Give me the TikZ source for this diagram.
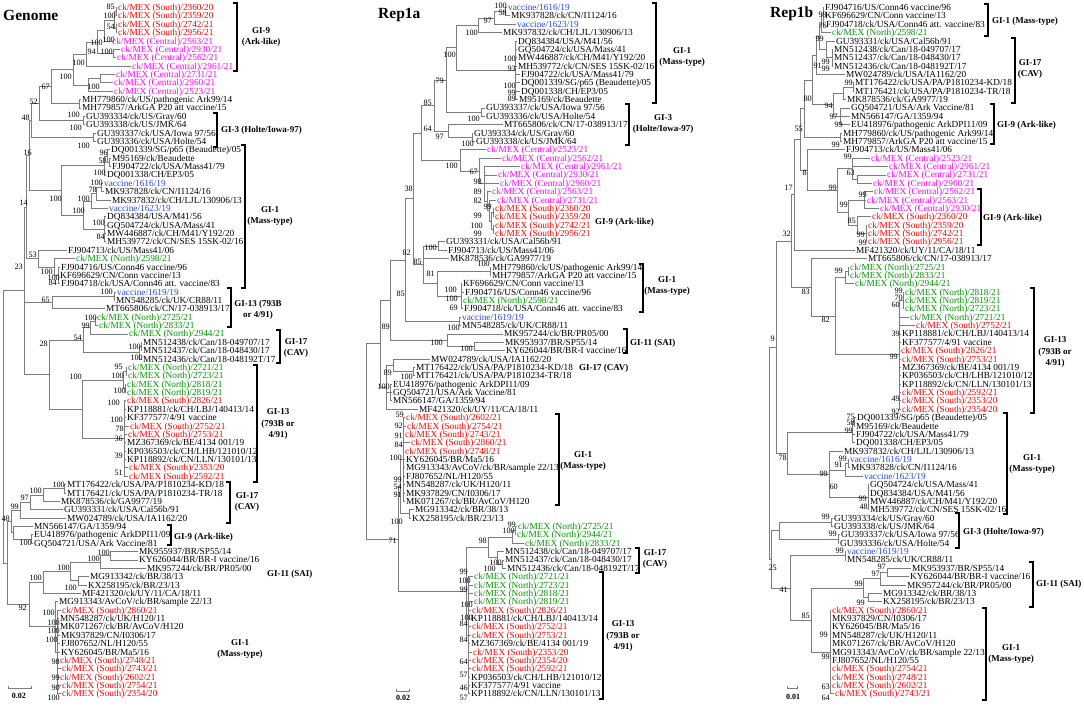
\documentclass[tikz,border=0pt]{standalone}
\usepackage{fontspec}
\setmainfont{Liberation Serif}
\usetikzlibrary{calc}
\definecolor{south}{RGB}{255,0,0}
\definecolor{central}{RGB}{255,0,255}
\definecolor{north}{RGB}{0,150,0}
\definecolor{vacc}{RGB}{40,70,235}
\definecolor{branchgray}{RGB}{125,125,125}
\newcounter{leafno}
\newcommand\leaffont{\fontsize{9.3}{9.3}\selectfont}
\newcommand\bootfont{\fontsize{8.2}{8.2}\selectfont}
\newcommand\leafat[4]{\stepcounter{leafno}%
  \node[leaf,text=#3] (#1) at (#2,{8.37*\arabic{leafno}-0.87}) {#4};}
\newcommand\clade[5]{\path let \p1=($(#3)!.5!(#4)$) in coordinate (#1) at (#2pt,\y1);%
  \foreach \ch in {#5} {\draw[branch] (#1) |- (\ch);}}
\newcommand\gbar[3]{\draw[brace] (#1-4,#2) -- (#1,#2) -- (#1,#3) -- (#1-4,#3);}
\tikzset{
  leaf/.style={anchor=west,inner xsep=1pt,inner ysep=0pt,text height=6.1pt,text depth=0pt,font=\leaffont},
  boot/.style={anchor=east,inner sep=0pt,text height=5.6pt,text depth=0pt,font=\bootfont},
  branch/.style={draw=branchgray,line width=0.8pt},
  brace/.style={line width=1.2pt},
  clab/.style={inner sep=0pt,align=center,font=\bfseries\fontsize{9}{11.5}\selectfont},
  ttl/.style={anchor=west,inner sep=0pt,font=\bfseries\fontsize{15.5}{16}\selectfont},
  scalebar/.style={line width=0.6pt,draw=branchgray},
  scalelab/.style={inner sep=0pt,font=\bfseries\fontsize{8}{8}\selectfont}
}
\begin{document}
\begin{tikzpicture}[x=1pt,y=-1pt]
\fill[white] (0,0) rectangle (1084,706);
\useasboundingbox (0,0) rectangle (1084,706);

% Genome
\node[ttl] (gtitle) at (3,15) {Genome};
\setcounter{leafno}{0}
\leafat{g1}{117}{south}{ck/MEX (South)/2360/20}
\leafat{g2}{117}{south}{ck/MEX (South)/2359/20}
\leafat{g3}{117}{south}{ck/MEX (South)/2742/21}
\leafat{g4}{117}{south}{ck/MEX (South)/2956/21}
\leafat{g5}{111}{central}{ck/MEX (Central)/2563/21}
\leafat{g6}{120}{central}{ck/MEX (Central)/2930/21}
\leafat{g7}{116}{central}{ck/MEX (Central)/2562/21}
\leafat{g8}{131}{central}{ck/MEX (Central)/2961/21}
\leafat{g9}{115}{central}{ck/MEX (Central)/2731/21}
\leafat{g10}{113}{central}{ck/MEX (Central)/2960/21}
\leafat{g11}{113}{central}{ck/MEX (Central)/2523/21}
\leafat{g12}{81}{black}{MH779860/ck/US/pathogenic Ark99/14}
\leafat{g13}{81}{black}{MH779857/ArkGA P20 att vaccine/15}
\leafat{g14}{85}{black}{GU393334/ck/US/Gray/60}
\leafat{g15}{85}{black}{GU393338/ck/US/JMK/64}
\leafat{g16}{96}{black}{GU393337/ck/USA/Iowa 97/56}
\leafat{g17}{96}{black}{GU393336/ck/USA/Holte/54}
\leafat{g18}{110}{black}{DQ001339/SG/p65 (Beaudette)/05}
\leafat{g19}{111}{black}{M95169/ck/Beaudette}
\leafat{g20}{111}{black}{FJ904722/ck/USA/Mass41/79}
\leafat{g21}{106}{black}{DQ001338/CH/EP3/05}
\leafat{g22}{103}{vacc}{vaccine/1616/19}
\leafat{g23}{104}{black}{MK937828/ck/CN/I1124/16}
\leafat{g24}{111}{black}{MK937832/ck/CH/LJL/130906/13}
\leafat{g25}{108}{vacc}{vaccine/1623/19}
\leafat{g26}{106}{black}{DQ834384/USA/M41/56}
\leafat{g27}{106}{black}{GQ504724/ck/USA/Mass/41}
\leafat{g28}{106}{black}{MW446887/ck/CH/M41/Y192/20}
\leafat{g29}{106}{black}{MH539772/ck/CN/SES 15SK-02/16}
\leafat{g30}{67}{black}{FJ904713/ck/US/Mass41/06}
\leafat{g31}{75}{north}{ck/MEX (North)/2598/21}
\leafat{g32}{60}{black}{FJ904716/US/Conn46 vaccine/96}
\leafat{g33}{59}{black}{KF696629/CN/Conn vaccine/13}
\leafat{g34}{60}{black}{FJ904718/ck/USA/Conn46 att. vaccine/83}
\leafat{g35}{116}{vacc}{vaccine/1619/19}
\leafat{g36}{115}{black}{MN548285/ck/UK/CR88/11}
\leafat{g37}{105}{black}{MT665806/ck/CN/17-038913/17}
\leafat{g38}{96}{north}{ck/MEX (North)/2725/21}
\leafat{g39}{98}{north}{ck/MEX (North)/2833/21}
\leafat{g40}{128}{north}{ck/MEX (North)/2944/21}
\leafat{g41}{142}{black}{MN512438/ck/Can/18-049707/17}
\leafat{g42}{142}{black}{MN512437/ck/Can/18-048430/17}
\leafat{g43}{142}{black}{MN512436/ck/Can/18-048192T/17}
\leafat{g44}{127}{north}{ck/MEX (North)/2721/21}
\leafat{g45}{127}{north}{ck/MEX (North)/2723/21}
\leafat{g46}{126}{north}{ck/MEX (North)/2818/21}
\leafat{g47}{126}{north}{ck/MEX (North)/2819/21}
\leafat{g48}{126}{south}{ck/MEX (South)/2826/21}
\leafat{g49}{126}{black}{KP118881/ck/CH/LBJ/140413/14}
\leafat{g50}{126}{black}{KF377577/4/91 vaccine}
\leafat{g51}{129}{south}{ck/MEX (South)/2752/21}
\leafat{g52}{127}{south}{ck/MEX (South)/2753/21}
\leafat{g53}{126}{black}{MZ367369/ck/BE/4134 001/19}
\leafat{g54}{126}{black}{KP036503/ck/CH/LHB/121010/12}
\leafat{g55}{126}{black}{KP118892/ck/CN/LLN/130101/13}
\leafat{g56}{128}{south}{ck/MEX (South)/2353/20}
\leafat{g57}{128}{south}{ck/MEX (South)/2592/21}
\leafat{g58}{66}{black}{MT176422/ck/USA/PA/P1810234-KD/18}
\leafat{g59}{66}{black}{MT176421/ck/USA/PA/P1810234-TR/18}
\leafat{g60}{60}{black}{MK878536/ck/GA9977/19}
\leafat{g61}{63}{black}{GU393331/ck/USA/Cal56b/91}
\leafat{g62}{66}{black}{MW024789/ck/USA/IA1162/20}
\leafat{g63}{33}{black}{MN566147/GA/1359/94}
\leafat{g64}{33}{black}{EU418976/pathogenic ArkDPI11/09}
\leafat{g65}{33}{black}{GQ504721/USA/Ark Vaccine/81}
\leafat{g66}{138}{black}{MK955937/BR/SP55/14}
\leafat{g67}{138}{black}{KY626044/BR/BR-I vaccine/16}
\leafat{g68}{146}{black}{MK957244/ck/BR/PR05/00}
\leafat{g69}{89}{black}{MG913342/ck/BR/38/13}
\leafat{g70}{87}{black}{KX258195/ck/BR/23/13}
\leafat{g71}{81}{black}{MF421320/ck/UY/11/CA/18/11}
\leafat{g72}{58}{black}{MG913343/AvCoV/ck/BR/sample 22/13}
\leafat{g73}{61}{south}{ck/MEX (South)/2860/21}
\leafat{g74}{59}{black}{MN548287/ck/UK/H120/11}
\leafat{g75}{59}{black}{MK071267/ck/BR/AvCoV/H120}
\leafat{g76}{60}{black}{MK937829/CN/I0306/17}
\leafat{g77}{60}{black}{FJ807652/NL/H120/55}
\leafat{g78}{60}{black}{KY626045/BR/Ma5/16}
\leafat{g79}{59}{south}{ck/MEX (South)/2748/21}
\leafat{g80}{61}{south}{ck/MEX (South)/2743/21}
\leafat{g81}{59}{south}{ck/MEX (South)/2602/21}
\leafat{g82}{61}{south}{ck/MEX (South)/2754/21}
\leafat{g83}{61}{south}{ck/MEX (South)/2354/20}
\clade{gn1}{116}{g1}{g2}{g1,g2}
\clade{gn2}{116}{g3}{g4}{g3,g4}
\clade{gn3}{114}{gn1}{gn2}{gn1,gn2}
\clade{gn4}{104}{gn3}{g5}{gn3,g5}
\clade{gn5}{113}{g6}{g7}{g6,g7}
\clade{gn6}{97}{gn4}{gn5}{gn4,gn5}
\clade{gn7}{86}{gn6}{g8}{gn6,g8}
\clade{gn8}{100}{g9}{g10}{g9,g10}
\clade{gn9}{88}{gn8}{g11}{gn8,g11}
\clade{gn10}{73}{gn7}{gn9}{gn7,gn9}
\clade{gn11}{79}{g12}{g13}{g12,g13}
\clade{gn12}{51}{gn10}{gn11}{gn10,gn11}
\clade{gn13}{83}{g14}{g15}{g14,g15}
\clade{gn14}{39}{gn12}{gn13}{gn12,gn13}
\clade{gn15}{93}{g16}{g17}{g16,g17}
\clade{gn16}{31}{gn14}{gn15}{gn14,gn15}
\clade{gn17}{109}{g19}{g20}{g19,g20}
\clade{gn18}{107}{g18}{gn17}{g18,gn17}
\clade{gn19}{104}{gn18}{g21}{gn18,g21}
\clade{gn20}{101}{g22}{g23}{g22,g23}
\clade{gn21}{96}{gn20}{g24}{gn20,g24}
\clade{gn22}{91}{gn21}{g25}{gn21,g25}
\clade{gn23}{104}{g26}{g29}{g26,g27,g28,g29}
\clade{gn24}{83}{gn22}{gn23}{gn22,gn23}
\clade{gn25}{61}{gn19}{gn24}{gn19,gn24}
\clade{gn26}{29}{gn16}{gn25}{gn16,gn25}
\clade{gn27}{58}{g32}{g34}{g32,g33,g34}
\clade{gn28}{54}{g31}{gn27}{g31,gn27}
\clade{gn29}{38}{g30}{gn28}{g30,gn28}
\clade{gn30}{26}{gn26}{gn29}{gn26,gn29}
\clade{gn31}{114}{g35}{g36}{g35,g36}
\clade{gn32}{52}{gn31}{g37}{gn31,g37}
\clade{gn33}{95}{g38}{g39}{g38,g39}
\clade{gn34}{90}{gn33}{g40}{gn33,g40}
\clade{gn35}{141}{g41}{g42}{g41,g42}
\clade{gn36}{139}{gn35}{g43}{gn35,g43}
\clade{gn37}{83}{gn34}{gn36}{gn34,gn36}
\clade{gn38}{126}{g44}{g45}{g44,g45}
\clade{gn39}{125}{g46}{g47}{g46,g47}
\clade{gn40}{123}{gn38}{gn39}{gn38,gn39}
\clade{gn41}{124}{g48}{g57}{g48,g49,g50,g51,g52,g53,g54,g55,g56,g57}
\clade{gn42}{82}{gn40}{gn41}{gn40,gn41}
\clade{gn43}{49}{gn37}{gn42}{gn37,gn42}
\clade{gn44}{24}{gn30}{gn43}{gn30,gn32,gn43}
\clade{gn45}{64}{g58}{g59}{g58,g59}
\clade{gn46}{43}{gn45}{g60}{gn45,g60}
\clade{gn47}{30}{gn46}{g61}{gn46,g61}
\clade{gn48}{20}{gn47}{g62}{gn47,g62}
\clade{gn49}{31}{g64}{g65}{g64,g65}
\clade{gn50}{13}{g63}{gn49}{g63,gn49}
\clade{gn51}{11}{gn48}{gn50}{gn48,gn50}
\clade{gn52}{110}{g66}{g67}{g66,g67}
\clade{gn53}{100}{gn52}{g68}{gn52,g68}
\clade{gn54}{78}{g69}{g70}{g69,g70}
\clade{gn55}{70}{gn53}{gn54}{gn53,gn54}
\clade{gn56}{43}{gn55}{g71}{gn55,g71}
\clade{gn57}{57}{g73}{g83}{g73,g74,g75,g76,g77,g78,g79,g80,g81,g82,g83}
\clade{gn58}{55}{g72}{gn57}{g72,gn57}
\clade{gn59}{29}{gn56}{gn58}{gn56,gn58}
\clade{gn60}{7}{gn51}{gn59}{gn51,gn59}
\clade{groot}{3}{gn44}{gn60}{gn44,gn60}
\foreach \bx/\by/\bv [count=\k] in {115/7/85,116/16/100,115/27/54,115/40/100,103/43/100,96/52/94,113/52/100,85/63/100,72/77/100,100/87/100,50/87/67,38/102/52,80/115/100,30/118/48,82/128/100,90/146/100,32/153/16,108/153/96,107/161/58,106/173/100,103/183/100,97/190/78,62/199/100,90/199/100,28/203/14,85/211/100,105/223/100,105/237/84,37/255/53,53/272/100,23/267/23,60/278/100,57/283/84,113/292/100,50/300/65,97/318/100,90/326/99,82/338/54,48/344/28,141/347/100,143/358/100,82/377/100,123/367/95,124/376/100,126/391/100,120/403/100,123/420/100,124/429/78,123/439/36,123/456/39,123/473/51,65/485/100,42/491/100,29/498/97,19/507/99,10/519/48,32/543/100,110/553/100,100/559/100,70/568/100,42/578/100,77/588/100,27/608/92,55/613/100,60/623/100,60/631/100,58/640/100,60/662/98,60/678/99,60/688/90,60/698/100}
  \node[boot] (gb\k) at (\bx,\by) {\bv};
\gbar{237}{3}{71}
\gbar{217}{113}{147}
\gbar{245}{145}{288}
\gbar{231}{288}{327}
\gbar{280}{330}{363}
\gbar{257}{365}{482}
\gbar{230}{482}{523}
\gbar{171}{525}{545}
\node[clab] (gl1) at (261,37) {GI-9\\(Ark-like)};
\node[clab,anchor=west] (gl2) at (221,130) {GI-3 (Holte/Iowa-97)};
\node[clab] (gl3) at (270,216) {GI-1\\(Mass-type)};
\node[clab] (gl4) at (258,310) {GI-13 (793B\\or 4/91)};
\node[clab] (gl5) at (296,348) {GI-17\\(CAV)};
\node[clab] (gl6) at (278,424) {GI-13\\(793B or\\4/91)};
\node[clab] (gl7) at (247,502) {GI-17\\(CAV)};
\node[clab,anchor=west] (gl8) at (174,537) {GI-9 (Ark-like)};
\node[clab,anchor=west] (gl9) at (267,574) {GI-11 (SAI)};
\node[clab] (gl10) at (240,649) {GI-1\\(Mass-type)};
\draw[scalebar] (8,686) -- (8,688) -- (31,688) -- (31,686);
\node[scalelab] (gscale) at (19,696) {0.02};

% Rep1a
\node[ttl] (atitle) at (378,15) {Rep1a};
\setcounter{leafno}{0}
\leafat{a1}{507}{vacc}{vaccine/1616/19}
\leafat{a2}{510}{black}{MK937828/ck/CN/I1124/16}
\leafat{a3}{516}{vacc}{vaccine/1623/19}
\leafat{a4}{502}{black}{MK937832/ck/CH/LJL/130906/13}
\leafat{a5}{517}{black}{DQ834384/USA/M41/56}
\leafat{a6}{517}{black}{GQ504724/ck/USA/Mass/41}
\leafat{a7}{517}{black}{MW446887/ck/CH/M41/Y192/20}
\leafat{a8}{517}{black}{MH539772/ck/CN/SES 15SK-02/16}
\leafat{a9}{520}{black}{FJ904722/ck/USA/Mass41/79}
\leafat{a10}{520}{black}{DQ001339/SG/p65 (Beaudette)/05}
\leafat{a11}{520}{black}{DQ001338/CH/EP3/05}
\leafat{a12}{518}{black}{M95169/ck/Beaudette}
\leafat{a13}{485}{black}{GU393337/ck/USA/Iowa 97/56}
\leafat{a14}{485}{black}{GU393336/ck/USA/Holte/54}
\leafat{a15}{503}{black}{MT665806/ck/CN/17-038913/17}
\leafat{a16}{473}{black}{GU393334/ck/US/Gray/60}
\leafat{a17}{475}{black}{GU393338/ck/US/JMK/64}
\leafat{a18}{486}{central}{ck/MEX (Central)/2523/21}
\leafat{a19}{501}{central}{ck/MEX (Central)/2562/21}
\leafat{a20}{520}{central}{ck/MEX (Central)/2961/21}
\leafat{a21}{497}{central}{ck/MEX (Central)/2930/21}
\leafat{a22}{499}{central}{ck/MEX (Central)/2960/21}
\leafat{a23}{491}{central}{ck/MEX (Central)/2563/21}
\leafat{a24}{496}{central}{ck/MEX (Central)/2731/21}
\leafat{a25}{494}{south}{ck/MEX (South)/2360/20}
\leafat{a26}{494}{south}{ck/MEX (South)/2359/20}
\leafat{a27}{494}{south}{ck/MEX (South)/2742/21}
\leafat{a28}{494}{south}{ck/MEX (South)/2956/21}
\leafat{a29}{445}{black}{GU393331/ck/USA/Cal56b/91}
\leafat{a30}{447}{black}{FJ904713/ck/US/Mass41/06}
\leafat{a31}{449}{black}{MK878536/ck/GA9977/19}
\leafat{a32}{491}{black}{MH779860/ck/US/pathogenic Ark99/14}
\leafat{a33}{491}{black}{MH779857/ArkGA P20 att vaccine/15}
\leafat{a34}{462}{black}{KF696629/CN/Conn vaccine/13}
\leafat{a35}{464}{black}{FJ904716/US/Conn46 vaccine/96}
\leafat{a36}{462}{north}{ck/MEX (North)/2598/21}
\leafat{a37}{463}{black}{FJ904718/ck/USA/Conn46 att. vaccine/83}
\leafat{a38}{461}{vacc}{vaccine/1619/19}
\leafat{a39}{461}{black}{MN548285/ck/UK/CR88/11}
\leafat{a40}{503}{black}{MK957244/ck/BR/PR05/00}
\leafat{a41}{504}{black}{MK953937/BR/SP55/14}
\leafat{a42}{505}{black}{KY626044/BR/BR-I vaccine/16}
\leafat{a43}{430}{black}{MW024789/ck/USA/IA1162/20}
\leafat{a44}{415}{black}{MT176422/ck/USA/PA/P1810234-KD/18}
\leafat{a45}{415}{black}{MT176421/ck/USA/PA/P1810234-TR/18}
\leafat{a46}{392}{black}{EU418976/pathogenic ArkDPI11/09}
\leafat{a47}{392}{black}{GQ504721/USA/Ark Vaccine/81}
\leafat{a48}{392}{black}{MN566147/GA/1359/94}
\leafat{a49}{418}{black}{MF421320/ck/UY/11/CA/18/11}
\leafat{a50}{405}{south}{ck/MEX (South)/2602/21}
\leafat{a51}{406}{south}{ck/MEX (South)/2754/21}
\leafat{a52}{404}{south}{ck/MEX (South)/2743/21}
\leafat{a53}{410}{south}{ck/MEX (South)/2860/21}
\leafat{a54}{404}{south}{ck/MEX (South)/2748/21}
\leafat{a55}{405}{black}{KY626045/BR/Ma5/16}
\leafat{a56}{405}{black}{MG913343/AvCoV/ck/BR/sample 22/13}
\leafat{a57}{405}{black}{FJ807652/NL/H120/55}
\leafat{a58}{405}{black}{MN548287/ck/UK/H120/11}
\leafat{a59}{405}{black}{MK937829/CN/I0306/17}
\leafat{a60}{405}{black}{MK071267/ck/BR/AvCoV/H120}
\leafat{a61}{414}{black}{MG913342/ck/BR/38/13}
\leafat{a62}{411}{black}{KX258195/ck/BR/23/13}
\leafat{a63}{517}{north}{ck/MEX (North)/2725/21}
\leafat{a64}{516}{north}{ck/MEX (North)/2944/21}
\leafat{a65}{524}{north}{ck/MEX (North)/2833/21}
\leafat{a66}{504}{black}{MN512438/ck/Can/18-049707/17}
\leafat{a67}{504}{black}{MN512437/ck/Can/18-048430/17}
\leafat{a68}{506}{black}{MN512436/ck/Can/18-048192T/17}
\leafat{a69}{473}{north}{ck/MEX (North)/2721/21}
\leafat{a70}{473}{north}{ck/MEX (North)/2723/21}
\leafat{a71}{473}{north}{ck/MEX (North)/2818/21}
\leafat{a72}{473}{north}{ck/MEX (North)/2819/21}
\leafat{a73}{471}{south}{ck/MEX (South)/2826/21}
\leafat{a74}{470}{black}{KP118881/ck/CH/LBJ/140413/14}
\leafat{a75}{471}{south}{ck/MEX (South)/2752/21}
\leafat{a76}{471}{south}{ck/MEX (South)/2753/21}
\leafat{a77}{470}{black}{MZ367369/ck/BE/4134 001/19}
\leafat{a78}{472}{south}{ck/MEX (South)/2353/20}
\leafat{a79}{471}{south}{ck/MEX (South)/2354/20}
\leafat{a80}{471}{south}{ck/MEX (South)/2592/21}
\leafat{a81}{470}{black}{KP036503/ck/CH/LHB/121010/12}
\leafat{a82}{470}{black}{KF377577/4/91 vaccine}
\leafat{a83}{470}{black}{KP118892/ck/CN/LLN/130101/13}
\clade{an1}{505}{a1}{a2}{a1,a2}
\clade{an2}{494}{an1}{a3}{an1,a3}
\clade{an3}{478}{an2}{a4}{an2,a4}
\clade{an4}{515}{a5}{a12}{a5,a6,a7,a8,a9,a10,a11,a12}
\clade{an5}{456}{an3}{an4}{an3,an4}
\clade{an6}{481}{a13}{a14}{a13,a14}
\clade{an7}{446}{an5}{an6}{an5,an6}
\clade{an8}{472}{a16}{a17}{a16,a17}
\clade{an9}{448}{a15}{an8}{a15,an8}
\clade{an10}{434}{an7}{an9}{an7,an9}
\clade{an11}{493}{a25}{a26}{a25,a26}
\clade{an12}{493}{a27}{a28}{a27,a28}
\clade{an13}{491}{an11}{an12}{an11,an12}
\clade{an14}{489}{a24}{an13}{a24,an13}
\clade{an15}{487}{a23}{an14}{a23,an14}
\clade{an16}{484}{a20}{an15}{a20,a21,a22,an15}
\clade{an17}{479}{a19}{an16}{a19,an16}
\clade{an18}{460}{a18}{an17}{a18,an17}
\clade{an19}{421}{an10}{an18}{an10,an18}
\clade{an20}{438}{a29}{a30}{a29,a30}
\clade{an21}{490}{a32}{a33}{a32,a33}
\clade{an22}{461}{a34}{a37}{a34,a35,a36,a37}
\clade{an23}{437}{an21}{an22}{an21,an22}
\clade{an24}{423}{an20}{an23}{an20,a31,an23}
\clade{an25}{413}{an19}{an24}{an19,an24}
\clade{an26}{459}{a38}{a39}{a38,a39}
\clade{an27}{405}{an25}{an26}{an25,an26}
\clade{an28}{474}{a41}{a42}{a41,a42}
\clade{an29}{447}{a40}{an28}{a40,an28}
\clade{an30}{390}{an27}{an29}{an27,an29}
\clade{an31}{413}{a44}{a45}{a44,a45}
\clade{an32}{393}{a43}{an31}{a43,an31}
\clade{an33}{390}{a46}{a48}{a46,a47,a48}
\clade{an34}{386}{an32}{a49}{an32,an33,a49}
\clade{an35}{380}{an30}{an34}{an30,an34}
\clade{an36}{403}{a50}{a60}{a50,a51,a52,a53,a54,a55,a56,a57,a58,a59,a60}
\clade{an37}{409}{a61}{a62}{a61,a62}
\clade{an38}{400}{an36}{an37}{an36,an37}
\clade{an39}{515}{a63}{a64}{a63,a64}
\clade{an40}{512}{an39}{a65}{an39,a65}
\clade{an41}{502}{a67}{a68}{a67,a68}
\clade{an42}{497}{a66}{an41}{a66,an41}
\clade{an43}{488}{an40}{an42}{an40,an42}
\clade{an44}{468}{a69}{a83}{a69,a70,a71,a72,a73,a74,a75,a76,a77,a78,a79,a80,a81,a82,a83}
\clade{an45}{466}{an43}{an44}{an43,an44}
\clade{an46}{398}{an38}{an45}{an38,an45}
\clade{aroot}{366}{an35}{an46}{an35,an46}
\foreach \bx/\by/\bv [count=\k] in {507/6/100,507/13/58,492/21/97,478/33/100,456/55/100,516/59/100,516/69/93,516/86/100,516/93/99,516/99/89,444/81/79,432/103/85,480/119/100,432/129/64,444/137/97,474/144/100,458/166/100,478/172/67,413/189/38,482/182/98,482/192/89,482/201/82,492/207/99,482/216/99,483/226/100,482/234/99,437/248/100,422/262/85,435/274/81,490/264/100,457/290/100,458/299/100,458/308/69,411/253/82,405/294/85,390/327/89,460/328/100,443/343/100,473/349/100,392/373/89,413/377/100,390/387/100,404/415/59,403/426/92,403/436/91,403/445/84,402/458/100,402/480/99,402/487/54,402/495/91,403/522/100,516/525/99,515/531/100,397/541/71,487/541/98,502/563/100,496/569/100,468/572/99,471/581/100,468/590/99,473/605/100,473/618/100,468/624/84,468/640/84,468/662/64,468/675/57,468/688/46,468/698/57}
  \node[boot] (ab\k) at (\bx,\by) {\bv};
\gbar{656}{3}{103}
\gbar{629}{104}{145}
\gbar{643}{264}{312}
\gbar{627}{329}{353}
\gbar{559}{414}{505}
\gbar{639}{548}{573}
\gbar{603}{572}{699}
\node[clab] (al1) at (682,57) {GI-1\\(Mass-type)};
\node[clab] (al2) at (663,124) {GI-3\\(Holte/Iowa-97)};
\node[clab,anchor=west] (al3) at (595,222) {GI-9 (Ark-like)};
\node[clab] (al4) at (667,286) {GI-1\\(Mass-type)};
\node[clab,anchor=west] (al5) at (630,343) {GI-11 (SAI)};
\node[clab,anchor=west] (al6) at (579,368) {GI-17 (CAV)};
\node[clab] (al7) at (583,461) {GI-1\\(Mass-type)};
\node[clab] (al8) at (655,559) {GI-17\\(CAV)};
\node[clab] (al9) at (623,636) {GI-13\\(793B or\\4/91)};
\draw[scalebar] (396,689) -- (396,691) -- (409,691) -- (409,689);
\node[scalelab] (ascale) at (403,698) {0.02};

% Rep1b
\node[ttl] (btitle) at (770,14) {Rep1b};
\setcounter{leafno}{0}
\leafat{b1}{824}{black}{FJ904716/US/Conn46 vaccine/96}
\leafat{b2}{824}{black}{KF696629/CN/Conn vaccine/13}
\leafat{b3}{825}{black}{FJ904718/ck/USA/Conn46 att. vaccine/83}
\leafat{b4}{831}{north}{ck/MEX (North)/2598/21}
\leafat{b5}{835}{black}{GU393331/ck/USA/Cal56b/91}
\leafat{b6}{833}{black}{MN512438/ck/Can/18-049707/17}
\leafat{b7}{833}{black}{MN512437/ck/Can/18-048430/17}
\leafat{b8}{833}{black}{MN512436/ck/Can/18-048192T/17}
\leafat{b9}{845}{black}{MW024789/ck/USA/IA1162/20}
\leafat{b10}{854}{black}{MT176422/ck/USA/PA/P1810234-KD/18}
\leafat{b11}{854}{black}{MT176421/ck/USA/PA/P1810234-TR/18}
\leafat{b12}{846}{black}{MK878536/ck/GA9977/19}
\leafat{b13}{850}{black}{GQ504721/USA/Ark Vaccine/81}
\leafat{b14}{850}{black}{MN566147/GA/1359/94}
\leafat{b15}{850}{black}{EU418976/pathogenic ArkDPI11/09}
\leafat{b16}{842}{black}{MH779860/ck/US/pathogenic Ark99/14}
\leafat{b17}{842}{black}{MH779857/ArkGA P20 att vaccine/15}
\leafat{b18}{845}{black}{FJ904713/ck/US/Mass41/06}
\leafat{b19}{870}{central}{ck/MEX (Central)/2523/21}
\leafat{b20}{888}{central}{ck/MEX (Central)/2961/21}
\leafat{b21}{886}{central}{ck/MEX (Central)/2731/21}
\leafat{b22}{872}{central}{ck/MEX (Central)/2960/21}
\leafat{b23}{873}{central}{ck/MEX (Central)/2562/21}
\leafat{b24}{866}{central}{ck/MEX (Central)/2563/21}
\leafat{b25}{879}{central}{ck/MEX (Central)/2930/21}
\leafat{b26}{871}{south}{ck/MEX (South)/2360/20}
\leafat{b27}{867}{south}{ck/MEX (South)/2359/20}
\leafat{b28}{867}{south}{ck/MEX (South)/2742/21}
\leafat{b29}{867}{south}{ck/MEX (South)/2956/21}
\leafat{b30}{855}{black}{MF421320/ck/UY/11/CA/18/11}
\leafat{b31}{867}{black}{MT665806/ck/CN/17-038913/17}
\leafat{b32}{849}{north}{ck/MEX (North)/2725/21}
\leafat{b33}{849}{north}{ck/MEX (North)/2833/21}
\leafat{b34}{854}{north}{ck/MEX (North)/2944/21}
\leafat{b35}{904}{north}{ck/MEX (North)/2818/21}
\leafat{b36}{904}{north}{ck/MEX (North)/2819/21}
\leafat{b37}{904}{north}{ck/MEX (North)/2723/21}
\leafat{b38}{909}{north}{ck/MEX (North)/2721/21}
\leafat{b39}{915}{south}{ck/MEX (South)/2752/21}
\leafat{b40}{901}{black}{KP118881/ck/CH/LBJ/140413/14}
\leafat{b41}{901}{black}{KF377577/4/91 vaccine}
\leafat{b42}{900}{south}{ck/MEX (South)/2826/21}
\leafat{b43}{901}{south}{ck/MEX (South)/2753/21}
\leafat{b44}{901}{black}{MZ367369/ck/BE/4134 001/19}
\leafat{b45}{901}{black}{KP036503/ck/CH/LHB/121010/12}
\leafat{b46}{901}{black}{KP118892/ck/CN/LLN/130101/13}
\leafat{b47}{901}{south}{ck/MEX (South)/2592/21}
\leafat{b48}{901}{south}{ck/MEX (South)/2353/20}
\leafat{b49}{901}{south}{ck/MEX (South)/2354/20}
\leafat{b50}{856}{black}{DQ001339/SG/p65 (Beaudette)/05}
\leafat{b51}{855}{black}{M95169/ck/Beaudette}
\leafat{b52}{855}{black}{FJ904722/ck/USA/Mass41/79}
\leafat{b53}{855}{black}{DQ001338/CH/EP3/05}
\leafat{b54}{843}{black}{MK937832/ck/CH/LJL/130906/13}
\leafat{b55}{849}{vacc}{vaccine/1616/19}
\leafat{b56}{850}{black}{MK937828/ck/CN/I1124/16}
\leafat{b57}{863}{vacc}{vaccine/1623/19}
\leafat{b58}{869}{black}{GQ504724/ck/USA/Mass/41}
\leafat{b59}{869}{black}{DQ834384/USA/M41/56}
\leafat{b60}{869}{black}{MW446887/ck/CH/M41/Y192/20}
\leafat{b61}{869}{black}{MH539772/ck/CN/SES 15SK-02/16}
\leafat{b62}{833}{black}{GU393334/ck/US/Gray/60}
\leafat{b63}{833}{black}{GU393338/ck/US/JMK/64}
\leafat{b64}{840}{black}{GU393337/ck/USA/Iowa 97/56}
\leafat{b65}{839}{black}{GU393336/ck/USA/Holte/54}
\leafat{b66}{846}{vacc}{vaccine/1619/19}
\leafat{b67}{846}{black}{MN548285/ck/UK/CR88/11}
\leafat{b68}{911}{black}{MK953937/BR/SP55/14}
\leafat{b69}{909}{black}{KY626044/BR/BR-I vaccine/16}
\leafat{b70}{906}{black}{MK957244/ck/BR/PR05/00}
\leafat{b71}{882}{black}{MG913342/ck/BR/38/13}
\leafat{b72}{882}{black}{KX258195/ck/BR/23/13}
\leafat{b73}{831}{south}{ck/MEX (South)/2860/21}
\leafat{b74}{831}{black}{MK937829/CN/I0306/17}
\leafat{b75}{831}{black}{KY626045/BR/Ma5/16}
\leafat{b76}{831}{black}{MN548287/ck/UK/H120/11}
\leafat{b77}{831}{black}{MK071267/ck/BR/AvCoV/H120}
\leafat{b78}{831}{black}{MG913343/AvCoV/ck/BR/sample 22/13}
\leafat{b79}{831}{black}{FJ807652/NL/H120/55}
\leafat{b80}{831}{south}{ck/MEX (South)/2754/21}
\leafat{b81}{831}{south}{ck/MEX (South)/2748/21}
\leafat{b82}{831}{south}{ck/MEX (South)/2602/21}
\leafat{b83}{834}{south}{ck/MEX (South)/2743/21}
\clade{bn1}{823}{b1}{b3}{b1,b2,b3}
\clade{bn2}{821}{bn1}{b4}{bn1,b4}
\clade{bn3}{832}{b6}{b8}{b6,b7,b8}
\clade{bn4}{826}{b5}{bn3}{b5,bn3}
\clade{bn5}{819}{bn2}{bn4}{bn2,bn4}
\clade{bn6}{816}{bn5}{b9}{bn5,b9}
\clade{bn7}{853}{b10}{b11}{b10,b11}
\clade{bn8}{843}{bn7}{b12}{bn7,b12}
\clade{bn9}{840}{b13}{b15}{b13,b14,b15}
\clade{bn10}{833}{bn8}{bn9}{bn8,bn9}
\clade{bn11}{812}{bn6}{bn10}{bn6,bn10}
\clade{bn12}{840}{b16}{b17}{b16,b17}
\clade{bn13}{804}{bn11}{bn12}{bn11,bn12}
\clade{bn14}{857}{b21}{b22}{b21,b22}
\clade{bn15}{852}{b19}{bn14}{b19,b20,bn14}
\clade{bn16}{864}{b23}{b25}{b23,b24,b25}
\clade{bn17}{866}{b27}{b29}{b27,b28,b29}
\clade{bn18}{857}{b26}{bn17}{b26,bn17}
\clade{bn19}{848}{bn16}{bn18}{bn16,bn18}
\clade{bn20}{837}{bn15}{bn19}{bn15,bn19}
\clade{bn21}{807}{b18}{bn20}{b18,bn20}
\clade{bn22}{800}{bn13}{bn21}{bn13,bn21}
\clade{bn23}{794}{bn22}{b30}{bn22,b30}
\clade{bn24}{848}{b32}{b33}{b32,b33}
\clade{bn25}{845}{bn24}{b34}{bn24,b34}
\clade{bn26}{903}{b35}{b37}{b35,b36,b37}
\clade{bn27}{899}{bn26}{b49}{bn26,b38,b39,b40,b41,b42,b43,b44,b45,b46,b47,b48,b49}
\clade{bn28}{835}{bn25}{bn27}{bn25,bn27}
\clade{bn29}{811}{b31}{bn28}{b31,bn28}
\clade{bn30}{791}{bn23}{bn29}{bn23,bn29}
\clade{bn31}{854}{b50}{b51}{b50,b51}
\clade{bn32}{852}{bn31}{b53}{bn31,b52,b53}
\clade{bn33}{848}{b55}{b56}{b55,b56}
\clade{bn34}{845}{bn33}{b57}{bn33,b57}
\clade{bn35}{868}{b58}{b61}{b58,b59,b60,b61}
\clade{bn36}{829}{b54}{bn35}{b54,bn34,bn35}
\clade{bn37}{787}{bn32}{bn36}{bn32,bn36}
\clade{bn38}{776}{bn30}{bn37}{bn30,bn37}
\clade{bn39}{831}{b62}{b63}{b62,b63}
\clade{bn40}{838}{b64}{b65}{b64,b65}
\clade{bn41}{779}{bn39}{bn40}{bn39,bn40}
\clade{bn42}{845}{b66}{b67}{b66,b67}
\clade{bn43}{887}{b68}{b69}{b68,b69}
\clade{bn44}{880}{bn43}{b70}{bn43,b70}
\clade{bn45}{868}{b71}{b72}{b71,b72}
\clade{bn46}{863}{bn44}{bn45}{bn44,bn45}
\clade{bn47}{830}{b73}{b83}{b73,b74,b75,b76,b77,b78,b79,b80,b81,b82,b83}
\clade{bn48}{811}{bn46}{bn47}{bn46,bn47}
\clade{bn49}{790}{bn42}{bn48}{bn42,bn48}
\clade{bn50}{771}{bn41}{bn49}{bn41,bn49}
\clade{broot}{769}{bn38}{bn50}{bn38,bn50}
\foreach \bx/\by/\bv [count=\k] in {827/15/99,827/26/76,824/39/99,822/66/91,830/62/99,830/69/99,853/83/99,812/99/80,833/106/94,838/117/97,843/125/99,803/129/55,840/145/99,852/157/99,855/173/63,807/173/8,793/188/17,837/188/99,867/195/99,848/205/99,856/221/85,865/235/99,867/243/99,791/234/32,843/271/99,810/292/83,830/320/82,903/291/99,903/298/70,900/305/60,900/334/39,775/339/9,898/357/99,900/399/49,900/412/92,855/417/75,855/423/58,853/431/99,787/458/78,847/459/99,843/465/91,828/474/99,838/487/60,867/499/99,868/507/48,830/517/99,837/534/99,844/551/99,777/568/25,886/567/97,880/574/97,863/584/99,865/603/99,788/590/41,810/616/85,828/635/99,830/657/99,830/687/63,830/698/64}
  \node[boot] (bb\k) at (\bx,\by) {\bv};
\gbar{988}{4}{36}
\gbar{1015}{38}{103}
\gbar{994}{104}{144}
\gbar{981}{189}{245}
\gbar{1034}{288}{413}
\gbar{1007}{413}{514}
\gbar{959}{513}{548}
\gbar{1033}{562}{607}
\gbar{986}{608}{700}
\node[clab,anchor=west] (bl1) at (992,21) {GI-1 (Mass-type)};
\node[clab] (bl2) at (1030,69) {GI-17\\(CAV)};
\node[clab,anchor=west] (bl3) at (997,125) {GI-9 (Ark-like)};
\node[clab,anchor=west] (bl4) at (983,218) {GI-9 (Ark-like)};
\node[clab] (bl5) at (1055,352) {GI-13\\(793B or\\4/91)};
\node[clab] (bl6) at (1032,464) {GI-1\\(Mass-type)};
\node[clab,anchor=west] (bl7) at (963,532) {GI-3 (Holte/Iowa-97)};
\node[clab,anchor=west] (bl8) at (1036,584) {GI-11 (SAI)};
\node[clab] (bl9) at (1011,654) {GI-1\\(Mass-type)};
\draw[scalebar] (787,686) -- (787,688) -- (797,688) -- (797,686);
\node[scalelab] (bscale) at (793,697) {0.01};
\end{tikzpicture}
\end{document}
